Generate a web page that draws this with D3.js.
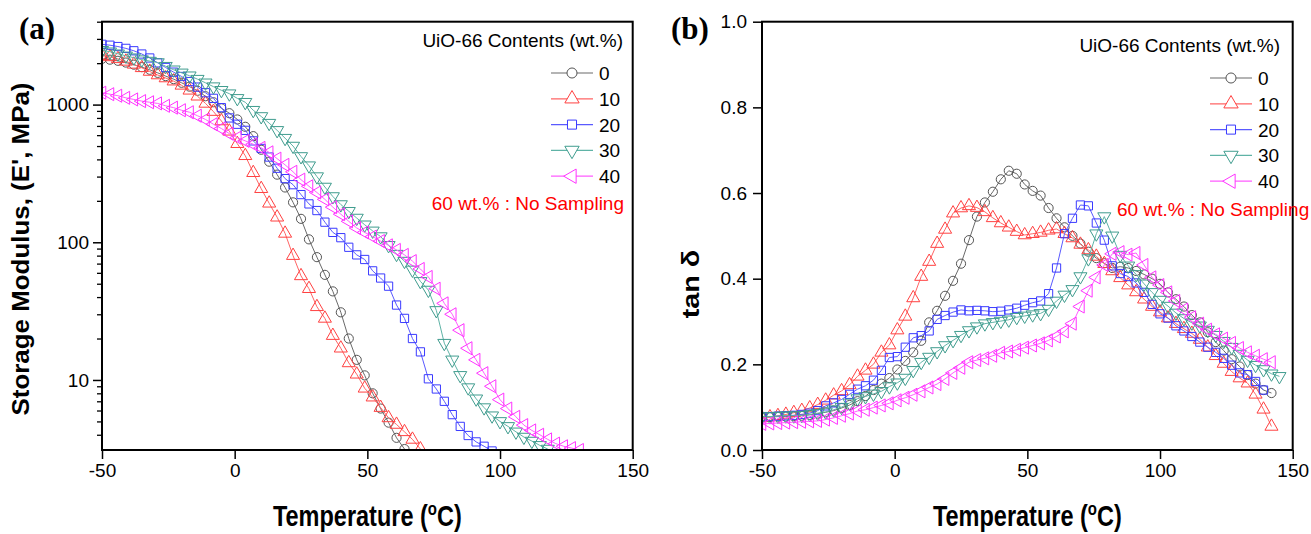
<!DOCTYPE html>
<html>
<head>
<meta charset="utf-8">
<script src="https://cdn.jsdelivr.net/npm/d3@7"></script>
<style>
  body { margin: 0; background: #fff; }
  svg { display: block; }
</style>
</head>
<body>
<svg id="canvas" width="1311" height="534"></svg>
<script>
// ---------------------------------------------------------------- //
// Data

var series_names = ['0', '10', '20', '30', '40'];
var x_ticks = [-50, 0, 50, 100, 150];
var y_ticks_a = [10, 100, 1000];
var y_ticks_b = [0.0, 0.2, 0.4, 0.6, 0.8, 1.0];

// (a) storage modulus E' (MPa) vs temperature
var temps_a = [-50,-47,-44,-41,-38,-35,-32,-29,-26,-23,-20,-17,-14,-11,-8,-5,-2,1,4,7,10,13,16,19,22,25,28,31,34,37,40,43,46,49,52,55,58,61,64,67,70,73,76,79,82,85,88,91,94,97,100,103,106,109,112,115,118,121,124,127,130];
var e_0  = [2150,2120,2080,2020,1950,1870,1790,1700,1610,1530,1440,1350,1260,1150,1040,940,866,780,690,590,470,385,310,250,195,148,105,78,58,44,31,20,14,10.8,8.0,6.2,4.9,3.8,3.15];
var e_10 = [2270,2220,2150,2060,1960,1850,1740,1640,1560,1480,1380,1270,1150,1020,890,760,640,520,425,320,245,192,152,116,80,57,46,34,28,21,17,13.3,11,8.7,7.5,6.3,5.3,4.75,4.2,3.7,3.15];
var e_20 = [2740,2700,2640,2560,2460,2330,2180,2010,1860,1720,1600,1470,1340,1220,1110,950,800,720,650,545,480,416,345,290,262,222,190,170,140,118,108,92,81,75,62,55,48,35,28,20,16,10.2,8.6,7.0,5.6,4.6,3.95,3.55,3.3,3.05];
var e_30 = [2480,2420,2340,2260,2190,2120,2070,2020,1900,1790,1700,1620,1530,1440,1350,1270,1200,1110,1040,910,820,733,650,570,500,420,360,300,252,215,188,168,150,134,121,110,95,82,73,63,52,45,32,18.5,14,10.8,8.8,7.3,6.3,5.5,5.0,4.6,4.2,3.85,3.6,3.35,3.15];
var e_40 = [1220,1190,1160,1120,1090,1060,1040,1020,980,950,910,880,830,780,720,670,615,575,545,515,485,450,405,365,325,285,255,230,205,180,160,142,127,118,110,102,95,88,81,73,64,56,46,36,30,23,17,14,11.2,9.0,7.2,6.2,5.4,4.7,4.3,4.0,3.7,3.45,3.3,3.2,3.1];

// (b) tan delta vs temperature
var temps_b = [-50,-47,-44,-41,-38,-35,-32,-29,-26,-23,-20,-17,-14,-11,-8,-5,-2,1,4,7,10,13,16,19,22,25,28,31,34,37,40,43,46,49,52,55,58,61,64,67,70,73,76,79,82,85,88,91,94,97,100,103,106,109,112,115,118,121,124,127,130,133,136,139,142,145];
var tan_0  = [.077,.077,.078,.078,.079,.080,.082,.085,.088,.092,.098,.105,.114,.126,.140,.155,.168,.188,.208,.228,.255,.298,.325,.36,.395,.435,.49,.545,.578,.603,.632,.652,.645,.62,.605,.594,.565,.541,.52,.50,.482,.463,.448,.436,.425,.428,.425,.418,.41,.40,.388,.368,.352,.335,.315,.298,.275,.252,.232,.212,.195,.175,.155,.14,.133];
var tan_10 = [.075,.077,.080,.083,.087,.092,.098,.106,.116,.128,.138,.152,.172,.186,.20,.228,.245,.28,.312,.355,.405,.44,.482,.515,.553,.565,.57,.566,.556,.542,.53,.52,.51,.502,.505,.508,.513,.516,.505,.495,.48,.467,.452,.435,.418,.402,.385,.369,.352,.335,.322,.308,.295,.283,.272,.258,.24,.22,.202,.183,.168,.156,.13,.095,.055];
var tan_20 = [.078,.078,.079,.080,.081,.083,.086,.092,.103,.110,.118,.13,.142,.15,.163,.186,.216,.218,.24,.262,.267,.278,.305,.314,.322,.327,.325,.326,.325,.323,.324,.327,.331,.338,.344,.348,.365,.425,.505,.541,.572,.57,.53,.49,.43,.412,.405,.39,.368,.34,.318,.308,.29,.278,.265,.252,.24,.228,.214,.198,.18,.176,.16,.14];
var tan_30 = [.078,.078,.079,.080,.080,.081,.083,.086,.089,.094,.10,.11,.12,.125,.131,.137,.148,.157,.168,.186,.205,.217,.23,.244,.256,.268,.279,.288,.295,.298,.301,.304,.31,.313,.316,.319,.329,.348,.362,.375,.405,.447,.505,.545,.50,.455,.43,.41,.388,.368,.35,.336,.32,.307,.297,.29,.28,.268,.254,.24,.224,.21,.198,.188,.178,.172];
var tan_40 = [.061,.062,.063,.064,.065,.066,.067,.068,.071,.075,.08,.085,.091,.094,.099,.104,.109,.116,.122,.129,.137,.146,.154,.166,.18,.192,.205,.21,.214,.22,.227,.23,.234,.239,.244,.249,.256,.265,.277,.295,.335,.372,.403,.432,.458,.462,.456,.46,.432,.403,.385,.368,.348,.328,.31,.295,.281,.27,.26,.25,.238,.228,.22,.212,.205];

// ---------------------------------------------------------------- //
// Styles

var line_colors   = ['#6a6a6a', '#ff6464', '#5a5aff', '#5fb3a6', '#ff5cff'];
var marker_colors = ['#555555', '#ff4040', '#3a3aff', '#3f9c8e', '#ff33ff'];
var marker_types  = [d3.symbolCircle, d3.symbolTriangle, d3.symbolSquare, d3.symbolTriangle, d3.symbolTriangle];
var marker_rot    = [0, 0, 0, 180, -90];
var marker_sizes  = [66, 74, 68, 74, 74];
var font = "'Liberation Sans', Arial, sans-serif";

var svg = d3.select('#canvas');

// ---------------------------------------------------------------- //
// Panel

function drawPanel(p){
  var x = d3.scaleLinear().domain([-50, 150]).range([p.left, p.right]);
  var y = p.y;

  svg.append('clipPath').attr('id', 'clip-' + p.id)
    .append('rect').attr('x', p.left).attr('y', p.top)
    .attr('width', p.right - p.left).attr('height', p.bottom - p.top);

  var plot = svg.append('g').attr('clip-path', 'url(#clip-' + p.id + ')');

  p.series.forEach(function(vals, i){
    var pts = vals.map(function(v, j){ return [p.temps[j], v]; });
    plot.append('path').datum(pts)
      .attr('d', d3.line().x(function(d){ return x(d[0]); }).y(function(d){ return y(d[1]); }))
      .attr('fill', 'none').attr('stroke', line_colors[i]).attr('stroke-width', 1);
    plot.selectAll(null).data(pts).enter().append('path')
      .attr('transform', function(d){ return 'translate(' + x(d[0]) + ',' + y(d[1]) + ') rotate(' + marker_rot[i] + ')'; })
      .attr('d', d3.symbol().type(marker_types[i]).size(marker_sizes[i]))
      .attr('fill', 'none').attr('stroke', marker_colors[i]).attr('stroke-width', 1);
  });

  // axes
  var xa = svg.append('g').attr('transform', 'translate(0,' + p.bottom + ')')
    .call(d3.axisBottom(x).tickValues(x_ticks).tickSize(9).tickPadding(5).tickFormat(function(d){ return String(d); }));
  var ya = svg.append('g').attr('transform', 'translate(' + p.left + ',0)')
    .call(d3.axisLeft(y).tickValues(p.yticks).tickSize(9).tickPadding(p.ypad).tickFormat(p.yformat));
  if(p.minor){
    var ym = svg.append('g').attr('transform', 'translate(' + p.left + ',0)')
      .call(d3.axisLeft(y).tickValues(p.minor).tickSize(5).tickFormat(''));
    ym.select('.domain').remove();
    ym.selectAll('line').attr('stroke-width', 1.3);
  }
  [xa, ya].forEach(function(a){
    a.select('.domain').remove();
    a.attr('font-family', font).attr('font-size', 19);
    a.selectAll('line').attr('stroke-width', 1.5);
    a.selectAll('text').attr('fill', '#000');
  });

  // frame
  svg.append('rect').attr('x', p.left).attr('y', p.top)
    .attr('width', p.right - p.left).attr('height', p.bottom - p.top)
    .attr('fill', 'none').attr('stroke', '#000').attr('stroke-width', 2);

  // x title
  var t = svg.append('text')
    .attr('transform', 'translate(' + ((p.left + p.right) / 2) + ',526) scale(1,1.22)')
    .attr('text-anchor', 'middle').attr('font-family', font).attr('font-weight', 'bold').attr('font-size', 23.5);
  t.append('tspan').text('Temperature (');
  t.append('tspan').attr('font-size', 15).attr('dy', -9).text('o');
  t.append('tspan').attr('dy', 9).text('C)');

  // y title
  svg.append('text')
    .attr('transform', 'translate(' + p.ytx + ',' + p.yty + ') rotate(-90) scale(' + p.ysx + ',1)')
    .attr('text-anchor', 'middle').attr('font-family', font).attr('font-weight', 'bold').attr('font-size', 24)
    .text(p.ytitle);

  // panel letter
  svg.append('text')
    .attr('x', p.lx).attr('y', 39)
    .attr('font-family', "'Liberation Serif', 'Times New Roman', serif").attr('font-weight', 'bold').attr('font-size', 31)
    .text(p.letter);

  // legend
  var lg = p.legend;
  svg.append('text').attr('x', lg.titleEnd).attr('y', lg.titleY)
    .attr('text-anchor', 'end').attr('font-family', font).attr('font-size', 19)
    .text('UiO-66 Contents (wt.%)');
  series_names.forEach(function(name, i){
    var cy = lg.y0 + i * lg.step;
    svg.append('line').attr('x1', lg.lineX).attr('x2', lg.lineX + 42).attr('y1', cy).attr('y2', cy)
      .attr('stroke', line_colors[i]).attr('stroke-width', 1.2);
    svg.append('path')
      .attr('transform', 'translate(' + (lg.lineX + 21) + ',' + cy + ') rotate(' + marker_rot[i] + ')')
      .attr('d', d3.symbol().type(marker_types[i]).size(marker_sizes[i] * 1.2))
      .attr('fill', '#fff').attr('stroke', marker_colors[i]).attr('stroke-width', 1);
    svg.append('text').attr('x', lg.lineX + 48).attr('y', cy + 7)
      .attr('font-family', font).attr('font-size', 19).text(name);
  });
  svg.append('text').attr('x', lg.noteX).attr('y', lg.noteY)
    .attr('text-anchor', lg.noteAnchor).attr('font-family', font).attr('font-size', 19).attr('fill', '#ff0000')
    .text('60 wt.% : No Sampling');
}

// ---------------------------------------------------------------- //
// Build

var ya = d3.scaleLog().domain([3.1, 4000]).range([450, 21.7]);
var minor_a = ya.ticks().filter(function(d){ return y_ticks_a.indexOf(d) < 0 && d >= 3.1 && d <= 4000; });

drawPanel({
  id: 'a', left: 102, right: 632.7, top: 21.7, bottom: 450,
  y: ya, yticks: y_ticks_a, minor: minor_a, ypad: 4, yformat: d3.format('d'),
  temps: temps_a, series: [e_0, e_10, e_20, e_30, e_40],
  ytitle: "Storage Modulus, (E', MPa)", ytx: 29, yty: 249, ysx: 1.08, letter: '(a)', lx: 19,
  legend: { titleEnd: 623, titleY: 47, lineX: 551, y0: 73, step: 25.8, noteX: 624, noteY: 210, noteAnchor: 'end' }
});

drawPanel({
  id: 'b', left: 762, right: 1292.7, top: 21.7, bottom: 450,
  y: d3.scaleLinear().domain([0, 1]).range([450, 21.7]), yticks: y_ticks_b, minor: null, ypad: 6, yformat: d3.format('.1f'),
  temps: temps_b, series: [tan_0, tan_10, tan_20, tan_30, tan_40],
  ytitle: 'tan δ', ytx: 699, yty: 284, ysx: 1.2, letter: '(b)', lx: 671,
  legend: { titleEnd: 1280, titleY: 52, lineX: 1210, y0: 78, step: 25.8, noteX: 1117, noteY: 216, noteAnchor: 'start' }
});
</script>
</body>
</html>
